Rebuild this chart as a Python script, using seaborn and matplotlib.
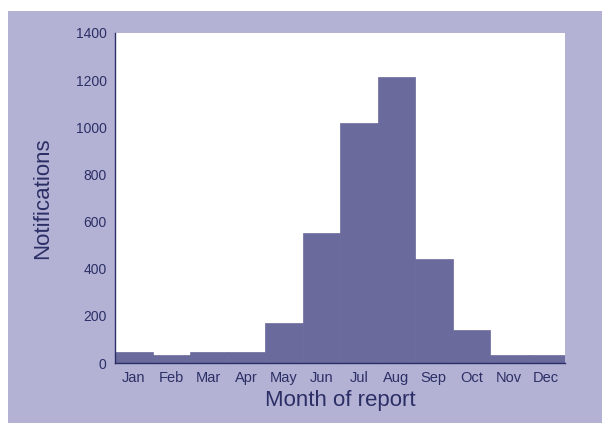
import matplotlib
matplotlib.use('Agg')
import matplotlib.pyplot as plt
import seaborn as sns
import pandas as pd
from matplotlib.patches import Rectangle

# Monthly notifications
months = ['Jan', 'Feb', 'Mar', 'Apr', 'May', 'Jun', 'Jul', 'Aug', 'Sep', 'Oct', 'Nov', 'Dec']
notifications = [46, 36, 48, 48, 168, 553, 1020, 1212, 440, 138, 35, 35]
y_ticks = [0, 200, 400, 600, 800, 1000, 1200, 1400]

BG = '#b4b2d4'
BAR = '#6a6a9c'
INK = '#2b2f66'

sns.set_style('white')
plt.rcParams['font.family'] = ['Liberation Sans', 'DejaVu Sans']

df = pd.DataFrame({'month': months, 'n': notifications})

fig = plt.figure(figsize=(6.02, 4.23), dpi=100, facecolor='white')
# purple card behind the plot (thin white border top/left as in the scan)
fig.add_artist(Rectangle((8 / 602, 0), 1, 1 - 11 / 423, transform=fig.transFigure,
                         facecolor=BG, edgecolor='none', zorder=-10))
ax = fig.add_axes([115 / 602, 1 - 363 / 423, 450 / 602, 330 / 423])
ax.set_facecolor('white')

sns.barplot(data=df, x='month', y='n', order=months, color=BAR, saturation=1,
            width=1.0, edgecolor=BAR, linewidth=0.5, ax=ax)

ax.set_xlim(-0.5, len(months) - 0.5)
ax.set_ylim(0, 1400)
ax.set_yticks(y_ticks)
ax.set_yticklabels([str(t) for t in y_ticks])

# month labels centred, tick marks at the bar boundaries
ax.set_xticks(range(len(months)))
ax.set_xticklabels(months)
ax.set_xticks([i - 0.5 for i in range(len(months) + 1)], minor=True)
ax.tick_params(axis='x', which='major', length=0, pad=6, labelsize=10.5, labelcolor=INK)
ax.tick_params(axis='x', which='minor', length=3, width=0.8, color=INK, direction='out')
ax.tick_params(axis='y', length=3, width=0.8, color=INK, labelsize=10, labelcolor=INK, pad=3)

for side in ['top', 'right']:
    ax.spines[side].set_visible(False)
for side in ['left', 'bottom']:
    ax.spines[side].set_color(INK)
    ax.spines[side].set_linewidth(1.0)

ax.set_xlabel('Month of report', fontsize=16, color=INK, labelpad=3)
ax.set_ylabel('Notifications', fontsize=16, color=INK, labelpad=16)

fig.savefig('out.png', dpi=100, facecolor=fig.get_facecolor())
